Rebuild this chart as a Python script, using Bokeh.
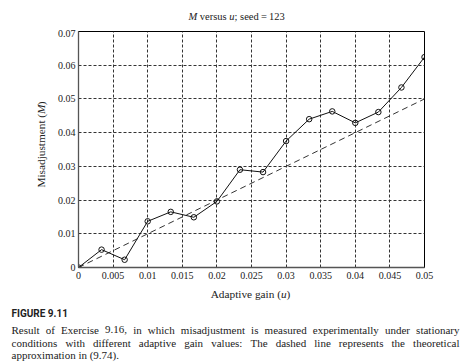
import glob
import math
from bokeh.plotting import figure
from bokeh.models import FixedTicker, Range1d
from bokeh.layouts import column, row
from bokeh.core.properties import value
from bokeh.embed import file_html
from bokeh.resources import INLINE

# ---------------- data ----------------
gain_u = [0.0, 0.003333, 0.006667, 0.01, 0.013333, 0.016667, 0.02, 0.023333,
          0.026667, 0.03, 0.033333, 0.036667, 0.04, 0.043333, 0.046667, 0.05]
misadj_M = [0.0, 0.0053, 0.0023, 0.0137, 0.0165, 0.0149, 0.0196, 0.0290,
            0.0283, 0.0375, 0.0440, 0.0463, 0.0429, 0.0461, 0.0534, 0.0624]
theory_u = [0.0, 0.05]
theory_M = [0.0, 0.05]

x_ticks = [0, 0.005, 0.01, 0.015, 0.02, 0.025, 0.03, 0.035, 0.04, 0.045, 0.05]
x_tick_labels = ["0", "0.005", "0.01", "0.015", "0.02", "0.025", "0.03",
                 "0.035", "0.04", "0.045", "0.05"]
y_ticks = [0, 0.01, 0.02, 0.03, 0.04, 0.05, 0.06, 0.07]
y_tick_labels = ["0", "0.01", "0.02", "0.03", "0.04", "0.05", "0.06", "0.07"]

title_parts = [("M", "italic"), (" versus ", "normal"), ("u", "italic"),
               ("; seed\u2009=\u2009123", "normal")]
xlabel_parts = [("Adaptive gain (", "normal"), ("u", "italic"), (")", "normal")]
ylabel_parts = [("Misadjustment (", "normal"), ("M", "italic"), (")", "normal")]
fig_label = "FIGURE 9.11"
caption_lines = [
    "Result of Exercise 9.16, in which misadjustment is measured experimentally under stationary",
    "conditions with different adaptive gain values: The dashed line represents the theoretical",
    "approximation in (9.74).",
]

# ---------------- text metrics helper ----------------
SERIF = "Liberation Serif"
_font_files = {"normal": "LiberationSerif-Regular.ttf",
               "italic": "LiberationSerif-Italic.ttf",
               "bold": "LiberationSerif-Bold.ttf"}
_fonts = {}


def _get_font(style):
    if style in _fonts:
        return _fonts[style]
    f = None
    try:
        from PIL import ImageFont
        hits = glob.glob("/usr/share/fonts/**/" + _font_files[style], recursive=True)
        hits += glob.glob("/usr/local/share/fonts/**/" + _font_files[style], recursive=True)
        if hits:
            f = ImageFont.truetype(hits[0], 100)
    except Exception:
        f = None
    _fonts[style] = f
    return f


def text_w(s, size, style="normal"):
    f = _get_font(style)
    if f is not None:
        try:
            return f.getlength(s) * size / 100.0
        except Exception:
            pass
    return len(s) * 0.46 * size


TXT = "#222222"


def put(f, x, y, txt, size, style="normal", font=SERIF, angle=0.0, align="left"):
    f.text(x=[x], y=[y], text=[txt], text_font=value(font),
           text_font_size=value("%.2fpx" % size), text_font_style=value(style),
           text_color=TXT, text_align=align, text_baseline="middle", angle=angle)


def chain(f, parts, start, fixed, size, vertical=False):
    """Place mixed-style segments one after another.

    The first segment is right-aligned at its end point so that the
    junction with the next segment does not depend on its measured width."""
    pos = start
    for i, (txt, st) in enumerate(parts):
        lead = len(txt) - len(txt.lstrip(" "))
        core = txt.strip(" ")
        w = text_w(txt, size, st)
        if i == 0:
            at, align = pos + w, "right"
        else:
            at, align = pos + text_w(txt[:lead], size, st), "left"
        if vertical:
            put(f, fixed, at, core, size, st, angle=math.pi / 2, align=align)
        else:
            put(f, at, fixed, core, size, st, align=align)
        pos += w


def total_w(parts, size):
    return sum(text_w(t, size, s) for t, s in parts)


def blank(w, h, yr):
    f = figure(width=w, height=h, x_range=Range1d(0, w), y_range=yr,
               x_axis_type=None, y_axis_type=None, toolbar_location=None,
               output_backend="svg", min_border=0)
    f.outline_line_color = None
    f.background_fill_color = "white"
    f.border_fill_color = "white"
    return f


# ---------------- geometry (canvas px) ----------------
W, H = 463, 363
T_H = 29            # title strip: y 0..29
L_W = 54            # y-label strip: x 0..54
M_W = W - L_W       # main plot
M_H = 257           # y 29..286
B_H = H - T_H - M_H  # bottom strip: y 286..363
FW, FH = 348, 236
B_TOP = T_H + M_H

# ---------------- main plot ----------------
p = figure(width=M_W, height=M_H, x_range=(0, 0.05), y_range=(0, 0.07),
           min_border_left=76 - L_W, min_border_right=M_W - (76 - L_W) - FW,
           min_border_top=2, min_border_bottom=M_H - 2 - FH,
           toolbar_location=None, output_backend="svg", title=None)
p.background_fill_color = "white"
p.border_fill_color = "white"
p.outline_line_color = "black"
p.outline_line_width = 1

p.xaxis.ticker = FixedTicker(ticks=x_ticks)
p.yaxis.ticker = FixedTicker(ticks=y_ticks)
p.xaxis.major_label_overrides = dict(zip(x_ticks, x_tick_labels))
p.yaxis.major_label_overrides = dict(zip(y_ticks, y_tick_labels))
for ax in (p.xaxis, p.yaxis):
    ax.major_tick_out = 0
    ax.major_tick_in = 0
    ax.minor_tick_line_color = None
    ax.axis_line_color = "#555"
    ax.axis_line_width = 1.3
    ax.major_label_text_font = SERIF
    ax.major_label_text_font_size = "10px"
    ax.major_label_text_color = TXT
p.xaxis.major_label_standoff = 4
p.yaxis.major_label_standoff = 3

p.grid.grid_line_color = "#333"
p.grid.grid_line_dash = "3 2"
p.grid.grid_line_width = 1

p.line(theory_u, theory_M, line_color="#333", line_width=1, line_dash="6 4")
p.line(gain_u, misadj_M, line_color="#111", line_width=1)
p.scatter(gain_u, misadj_M, marker="circle", size=5.5, fill_alpha=0,
          line_color="#111", line_width=1)

# ---------------- title strip (y down) ----------------
t = blank(W, T_H, Range1d(T_H, 0))
chain(t, title_parts, 188, 15.7, 10.5)

# ---------------- y-label strip (y up) ----------------
lft = blank(L_W, M_H, Range1d(0, M_H))
ls = 11.3
chain(lft, ylabel_parts, (B_TOP - 149) - total_w(ylabel_parts, ls) / 2, 40,
      ls, vertical=True)

# ---------------- bottom strip (y down) ----------------
b = blank(W, B_H, Range1d(B_H, 0))
chain(b, xlabel_parts, 250 - total_w(xlabel_parts, ls) / 2, 293.3 - B_TOP, ls)

put(b, 11, 313 - B_TOP, fig_label, 10, "bold", font="Roboto")

cs = 11.0
left, right = 11, 459
avail = right - left
for line in caption_lines[:-1]:
    nat = text_w(line, cs)
    if nat > avail * 0.985:
        cs *= avail * 0.985 / nat
line_y = [329 - B_TOP, 342 - B_TOP, 354.5 - B_TOP]
for i, line in enumerate(caption_lines):
    words = line.split(" ")
    if i < len(caption_lines) - 1:
        ws = [text_w(w, cs) for w in words]
        gap = (avail - sum(ws)) / (len(words) - 1)
        xs, x = [], left
        for ww in ws:
            xs.append(x)
            x += ww + gap
        b.text(x=xs, y=[line_y[i]] * len(words), text=words,
               text_font=value(SERIF), text_font_size=value("%.2fpx" % cs),
               text_color=TXT, text_align="left", text_baseline="middle")
    else:
        put(b, left, line_y[i], line, cs)

layout = column(t, row(lft, p), b)
open("out.html", "w").write(file_html(layout, INLINE))
